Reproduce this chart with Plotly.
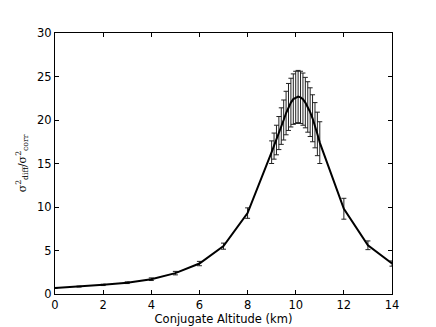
import plotly.graph_objects as go

# Werte
altitude = [0, 1, 2, 3, 4, 5, 6, 7, 8,
            9.0, 9.1, 9.2, 9.3, 9.4, 9.5, 9.6, 9.7, 9.8, 9.9, 10.0,
            10.1, 10.2, 10.3, 10.4, 10.5, 10.6, 10.7, 10.8, 10.9, 11.0,
            12, 13, 14]
ratio = [0.7, 0.85, 1.05, 1.3, 1.7, 2.4, 3.5, 5.5, 9.3,
         16.3, 17.0, 17.7, 18.5, 19.3, 20.0, 20.8, 21.5, 22.0, 22.4, 22.6,
         22.7, 22.6, 22.4, 22.0, 21.5, 20.9, 20.2, 19.4, 18.4, 17.4,
         9.8, 5.6, 3.5]
ratio_err = [0.05, 0.05, 0.08, 0.1, 0.15, 0.2, 0.25, 0.35, 0.6,
             1.3, 1.5, 1.7, 1.9, 2.1, 2.3, 2.5, 2.7, 2.8, 2.9, 3.0,
             3.0, 3.0, 3.0, 2.9, 2.9, 2.8, 2.7, 2.6, 2.5, 2.4,
             1.2, 0.5, 0.3]

fig = go.Figure()

fig.add_trace(go.Scatter(
    x=altitude,
    y=ratio,
    mode="lines",
    line=dict(color="black", width=2),
    error_y=dict(type="data", array=ratio_err, visible=True,
                 color="#222222", thickness=1, width=2.5),
    showlegend=False
))

achse = dict(
    showgrid=False, zeroline=False, automargin=False,
    showline=True, linecolor="black", linewidth=1, mirror="allticks",
    ticks="inside", ticklen=4, tickcolor="black",
    tickfont=dict(family="DejaVu Sans", size=11.5, color="black"),
)

fig.update_xaxes(range=[0, 14], tickvals=list(range(0, 15, 2)),
                 title=dict(text="Conjugate Altitude (km)", standoff=0,
                            font=dict(family="DejaVu Sans", size=11.5, color="black")),
                 **achse)
fig.update_yaxes(range=[0, 30], tickvals=list(range(0, 31, 5)),
                 title=dict(text="σ<sup>2</sup><sub>diff</sub>/σ<sup>2</sup><sub>corr</sub>",
                            standoff=8,
                            font=dict(family="DejaVu Serif", size=11, color="black")),
                 **achse)

# die Seite hat 8px Rand, daher etwas kleiner
fig.update_layout(
    width=428, height=319,
    margin=dict(l=47, r=44, t=25, b=33),
    plot_bgcolor="white", paper_bgcolor="white",
    font=dict(family="DejaVu Sans"),
)

fig.write_html("out.html")
